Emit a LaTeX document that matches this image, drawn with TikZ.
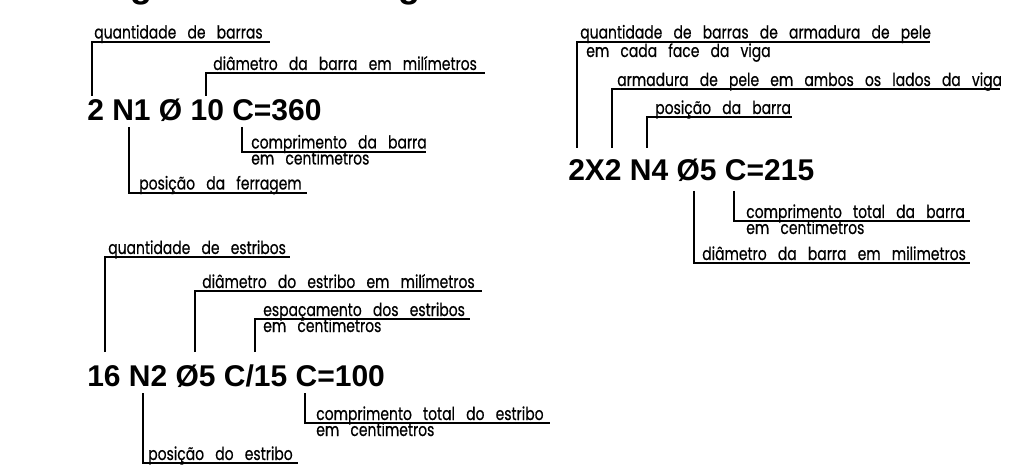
\documentclass[tikz,border=0pt]{standalone}
\usepackage{fontspec}
\usepackage{graphicx}
\setmainfont{Liberation Sans}
\newfontfamily\cadfont[WordSpace=3.0,FakeBold=0.6]{Poppins}
\newcommand\cadtext[1]{\scalebox{0.95}[1.22]{#1}}
\begin{document}
\begin{tikzpicture}[x=0.75pt,y=-0.75pt,
  code/.style={anchor=base west, inner sep=0pt, font=\fontsize{22.5}{24}\selectfont\bfseries},
  lbl/.style={anchor=base west, inner sep=0pt, font=\cadfont\fontsize{11}{12}\selectfont},
  title/.style={anchor=base west, inner sep=0pt, font=\fontsize{27}{30}\selectfont\bfseries},
  leader/.style={line width=0.8pt, black}]
\useasboundingbox[fill=white] (0,0) rectangle (1023,466);
% cut-off title glyphs
\node[title] (t1) at (130,-2.5) {g};
\node[title] (t2) at (398,-2.5) {g};

% ---------- block 1 ----------
\node[code] (m1) at (87,121) {2 N1 Ø 10 C=360};
\node[lbl] (a1) at (94,38.5) {\cadtext{quantidade de barras}};
\node[lbl] (a2) at (213,70) {\cadtext{diâmetro da barra em milímetros}};
\node[lbl] (a3) at (251,148.5) {\cadtext{comprimento da barra}};
\node[lbl] (a3b) at (251,164.5) {\cadtext{em centimetros}};
\node[lbl] (a4) at (139,189.5) {\cadtext{posição da ferragem}};
\coordinate (s11) at (92,96);   \coordinate (e11) at (270,42);
\coordinate (s12) at (206,96);  \coordinate (e12) at (485,73);
\coordinate (s13) at (242,127); \coordinate (e13) at (426,152);
\coordinate (s14) at (129,127); \coordinate (e14) at (307,193);
\draw[leader] (s11) |- (e11);
\draw[leader] (s12) |- (e12);
\draw[leader] (s13) |- (e13);
\draw[leader] (s14) |- (e14);

% ---------- block 3 (right) ----------
\node[code] (m3) at (568,181) {2X2 N4 Ø5 C=215};
\node[lbl] (c1) at (580,38.5) {\cadtext{quantidade de barras de armadura de pele}};
\node[lbl] (c1b) at (586,57) {\cadtext{em cada face da viga}};
\node[lbl] (c2) at (617,86) {\cadtext{armadura de pele em ambos os lados da viga}};
\node[lbl] (c3) at (655,114) {\cadtext{posição da barra}};
\node[lbl] (c4) at (746,218) {\cadtext{comprimento total da barra}};
\node[lbl] (c4b) at (746,234) {\cadtext{em centimetros}};
\node[lbl] (c5) at (702,260) {\cadtext{diâmetro da barra em milimetros}};
\coordinate (s31) at (577,148); \coordinate (e31) at (930,42);
\coordinate (s32) at (612,148); \coordinate (e32) at (1000,89);
\coordinate (s33) at (647,148); \coordinate (e33) at (792,117);
\coordinate (s34) at (734,191); \coordinate (e34) at (970,221);
\coordinate (s35) at (694,191); \coordinate (e35) at (970,263);
\draw[leader] (s31) |- (e31);
\draw[leader] (s32) |- (e32);
\draw[leader] (s33) |- (e33);
\draw[leader] (s34) |- (e34);
\draw[leader] (s35) |- (e35);

% ---------- block 2 ----------
\node[code] (m2) at (87,386) {16 N2 Ø5 C/15 C=100};
\node[lbl] (b1) at (108,254) {\cadtext{quantidade de estribos}};
\node[lbl] (b2) at (202,288) {\cadtext{diâmetro do estribo em milímetros}};
\node[lbl] (b3) at (263,316) {\cadtext{espaçamento dos estribos}};
\node[lbl] (b3b) at (263,332) {\cadtext{em centimetros}};
\node[lbl] (b4) at (316,420) {\cadtext{comprimento total do estribo}};
\node[lbl] (b4b) at (316,436) {\cadtext{em centimetros}};
\node[lbl] (b5) at (148,460) {\cadtext{posição do estribo}};
\coordinate (s21) at (105,352); \coordinate (e21) at (290,257);
\coordinate (s22) at (195,352); \coordinate (e22) at (482,291);
\coordinate (s23) at (255,352); \coordinate (e23) at (470,319);
\coordinate (s24) at (305,393); \coordinate (e24) at (550,423);
\coordinate (s25) at (143,393); \coordinate (e25) at (298,463);
\draw[leader] (s21) |- (e21);
\draw[leader] (s22) |- (e22);
\draw[leader] (s23) |- (e23);
\draw[leader] (s24) |- (e24);
\draw[leader] (s25) |- (e25);
\end{tikzpicture}
\end{document}
